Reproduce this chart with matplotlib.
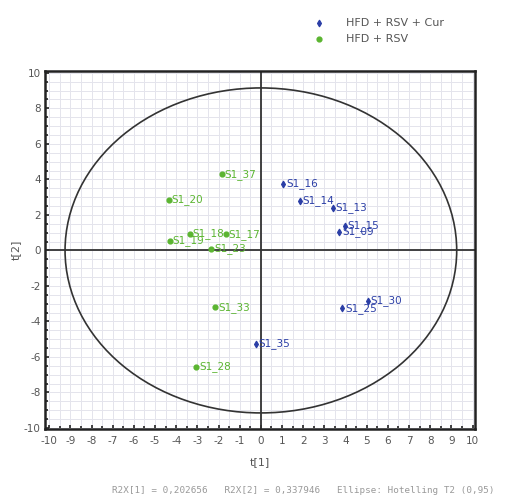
import matplotlib
matplotlib.use('Agg')
import matplotlib.pyplot as plt
from matplotlib.patches import Ellipse
from matplotlib.ticker import MultipleLocator

plt.rcParams['axes.unicode_minus'] = False

# scores, HFD + RSV + Cur
cur_labels = ['S1_16', 'S1_14', 'S1_13', 'S1_15', 'S1_09', 'S1_30', 'S1_25', 'S1_35']
cur_t1 = [1.05, 1.85, 3.4, 3.95, 3.7, 5.05, 3.85, -0.25]
cur_t2 = [3.75, 2.8, 2.4, 1.4, 1.05, -2.85, -3.25, -5.25]

# scores, HFD + RSV
rsv_labels = ['S1_37', 'S1_20', 'S1_18', 'S1_17', 'S1_19', 'S1_23', 'S1_33', 'S1_28']
rsv_t1 = [-1.85, -4.35, -3.35, -1.65, -4.3, -2.35, -2.15, -3.05]
rsv_t2 = [4.3, 2.85, 0.95, 0.9, 0.55, 0.1, -3.2, -6.55]

# Hotelling T2 ellipse half-axes
ell_a = 9.25
ell_b = 9.15

blue = '#2b3ea6'
green = '#5bb531'

fig = plt.figure(figsize=(5.05, 5.04), dpi=100)
ax = fig.add_axes([0.089, 0.149, 0.851, 0.71])

ax.set_xlim(-10.2, 10.1)
ax.set_ylim(-10.05, 10.1)

ax.xaxis.set_major_locator(MultipleLocator(1))
ax.xaxis.set_minor_locator(MultipleLocator(0.5))
ax.yaxis.set_major_locator(MultipleLocator(2))
ax.yaxis.set_minor_locator(MultipleLocator(0.5))
ax.grid(True, which='both', color='#e4e4ec', linewidth=0.7)
ax.set_axisbelow(True)

for s in ax.spines.values():
    s.set_linewidth(1.8)
    s.set_color('#222222')
ax.tick_params(which='both', direction='in', colors='#222222', labelcolor='#555555',
               labelsize=7.5, length=3, width=1.2)
ax.tick_params(axis='x', which='both', pad=5)
ax.tick_params(axis='y', which='both', pad=3)
ax.tick_params(which='minor', length=2)

ax.axhline(0, color='#333333', lw=1.3, zorder=1)
ax.axvline(0, color='#333333', lw=1.3, zorder=1)
ax.add_patch(Ellipse((0, 0), 2 * ell_a, 2 * ell_b, fill=False, ec='#333333', lw=1.2))

h1 = ax.scatter(cur_t1, cur_t2, s=10, marker='d', color=blue, zorder=3)
h2 = ax.scatter(rsv_t1, rsv_t2, s=12, marker='o', color=green, zorder=3)
for lab, x, y in zip(cur_labels, cur_t1, cur_t2):
    ax.annotate(lab, (x, y), xytext=(2, 0), textcoords='offset points',
                va='center', ha='left', fontsize=7.5, color=blue)
for lab, x, y in zip(rsv_labels, rsv_t1, rsv_t2):
    ax.annotate(lab, (x, y), xytext=(2, 0), textcoords='offset points',
                va='center', ha='left', fontsize=7.5, color=green)

ax.set_xlabel('t[1]', fontsize=8, color='#555555', labelpad=8)
ax.set_ylabel('t[2]', fontsize=8, color='#555555', labelpad=2)

fig.legend([h1, h2], ['HFD + RSV + Cur', 'HFD + RSV'], loc='upper left',
           bbox_to_anchor=(0.59, 0.985), frameon=False, fontsize=8,
           handletextpad=1.4, labelspacing=0.55, markerscale=1.0)
for t in fig.legends[0].get_texts():
    t.set_color('#555555')

fig.text(0.6, 0.027, 'R2X[1] = 0,202656   R2X[2] = 0,337946   Ellipse: Hotelling T2 (0,95)',
         ha='center', va='center', fontsize=6.7, family='DejaVu Sans Mono', color='#999999')

fig.savefig('out.png', dpi=100)
